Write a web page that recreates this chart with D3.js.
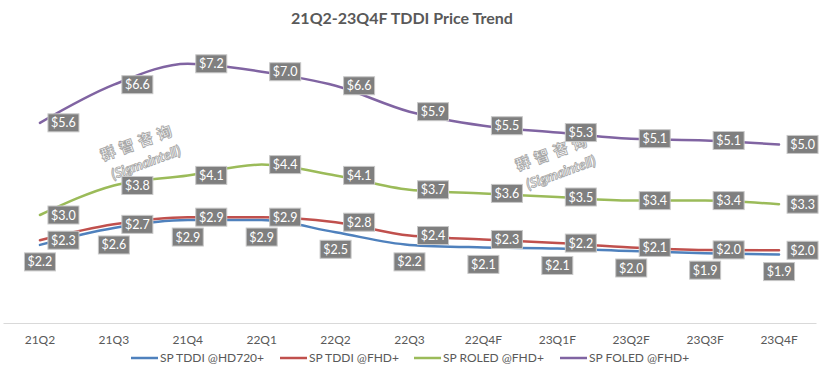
<!DOCTYPE html>
<html>
<head>
<meta charset="utf-8">
<script src="https://cdn.jsdelivr.net/npm/d3@7"></script>
<style>
  body { margin: 0; background: #fff; }
  text { font-family: Lato, "Open Sans", sans-serif; }
</style>
</head>
<body>
<div id="chart"></div>
<script>
// categories and series
var quarters = ["21Q2", "21Q3", "21Q4", "22Q1", "22Q2", "22Q3", "22Q4F", "23Q1F", "23Q2F", "23Q3F", "23Q4F"];
var hd720 = [2.17, 2.64, 2.86, 2.86, 2.52, 2.17, 2.10, 2.07, 2.00, 1.94, 1.90];
var fhd = [2.30, 2.74, 2.94, 2.94, 2.80, 2.43, 2.32, 2.22, 2.10, 2.03, 2.02];
var roled = [3.00, 3.82, 4.10, 4.40, 4.10, 3.70, 3.60, 3.50, 3.40, 3.40, 3.30];
var foled = [5.56, 6.62, 7.20, 6.98, 6.59, 5.87, 5.48, 5.29, 5.12, 5.07, 4.96];
var seriesNames = ["SP TDDI @HD720+", "SP TDDI @FHD+", "SP ROLED @FHD+", "SP FOLED @FHD+"];
var colors = ["#4F81BD", "#C0504D", "#9BBB59", "#8064A2"];
var labelPos = ["below", "right", "right", "right"];

var series = [hd720, fhd, roled, foled].map(function(vals, i) {
  return { name: seriesNames[i], color: colors[i], pos: labelPos[i], values: vals };
});

var W = 839, H = 375;
var svg = d3.select("#chart").append("svg")
    .attr("width", W)
    .attr("height", H);

// title
svg.append("text")
    .attr("x", 402)
    .attr("y", 24)
    .attr("text-anchor", "middle")
    .style("font-size", "16px")
    .style("font-weight", "bold")
    .style("fill", "#595959")
    .text("21Q2-23Q4F TDDI Price Trend");

// scales
var x = d3.scaleBand().domain(quarters).range([3, 816]);
var y = d3.scaleLinear().domain([0, 8]).range([323, 35]);
var cx = function(q) { return x(q) + x.bandwidth() / 2; };

// x axis
var xAxis = d3.axisBottom(x).tickSize(0).tickPadding(12);
var gx = svg.append("g")
    .attr("transform", "translate(0," + y(0) + ")")
    .call(xAxis);
gx.select(".domain").attr("stroke", "#d9d9d9");
gx.selectAll("text")
    .style("font-size", "12px")
    .style("fill", "#595959")
    .style("font-family", "Lato, sans-serif");

// watermarks
[[142, 152], [557, 162]].forEach(function(p) {
  var wm = svg.append("g")
      .attr("transform", "translate(" + p[0] + "," + p[1] + ") rotate(-20)");
  wm.append("text")
      .attr("text-anchor", "middle")
      .attr("y", -5)
      .style("font-family", "'Noto Sans CJK SC', sans-serif")
      .style("font-size", "15px")
      .style("font-weight", "bold")
      .style("letter-spacing", "5px")
      .style("fill", "#fff")
      .style("stroke", "#a8a8a8")
      .style("stroke-width", 0.9)
      .text("群智咨询");
  wm.append("text")
      .attr("text-anchor", "middle")
      .attr("y", 16)
      .style("font-size", "14px")
      .style("font-weight", "bold")
      .style("font-style", "italic")
      .style("fill", "#fff")
      .style("stroke", "#a8a8a8")
      .style("stroke-width", 0.9)
      .text("(Sigmaintell)");
});

// lines
var line = d3.line()
    .x(function(d, i) { return cx(quarters[i]); })
    .y(function(d) { return y(d); })
    .curve(d3.curveMonotoneX);

svg.selectAll(".series")
    .data(series)
    .enter().append("path")
    .attr("class", "series")
    .attr("d", function(s) { return line(s.values); })
    .attr("fill", "none")
    .attr("stroke", function(s) { return s.color; })
    .attr("stroke-width", 2.5)
    .attr("stroke-linecap", "round");

// data labels
var boxW = 31, boxH = 18;
series.forEach(function(s) {
  var lab = svg.selectAll(null)
      .data(s.values)
      .enter().append("g")
      .attr("transform", function(d, i) {
        var px = cx(quarters[i]), py = y(d);
        if (s.pos == "below") {
          return "translate(" + px + "," + (py + 17) + ")";
        }
        return "translate(" + (px + 8 + boxW / 2) + "," + py + ")";
      });
  lab.append("rect")
      .attr("x", -boxW / 2)
      .attr("y", -boxH / 2)
      .attr("width", boxW)
      .attr("height", boxH)
      .attr("fill", "#7f7f7f")
      .attr("stroke", "#c8c8c8")
      .attr("stroke-width", 1);
  lab.append("text")
      .attr("text-anchor", "middle")
      .attr("dy", "0.36em")
      .style("font-size", "12.5px")
      .style("fill", "#fff")
      .text(function(d) { return "$" + d.toFixed(1); });
});

// legend
var legendX = [131, 280, 414, 560];
var legend = svg.selectAll(".legend")
    .data(series)
    .enter().append("g")
    .attr("class", "legend")
    .attr("transform", function(d, i) { return "translate(" + legendX[i] + ",358)"; });
legend.append("line")
    .attr("x1", 0)
    .attr("x2", 27)
    .attr("stroke", function(d) { return d.color; })
    .attr("stroke-width", 2.5);
legend.append("text")
    .attr("x", 29)
    .attr("dy", "0.35em")
    .style("font-size", "12px")
    .style("fill", "#595959")
    .text(function(d) { return d.name; });
</script>
</body>
</html>
